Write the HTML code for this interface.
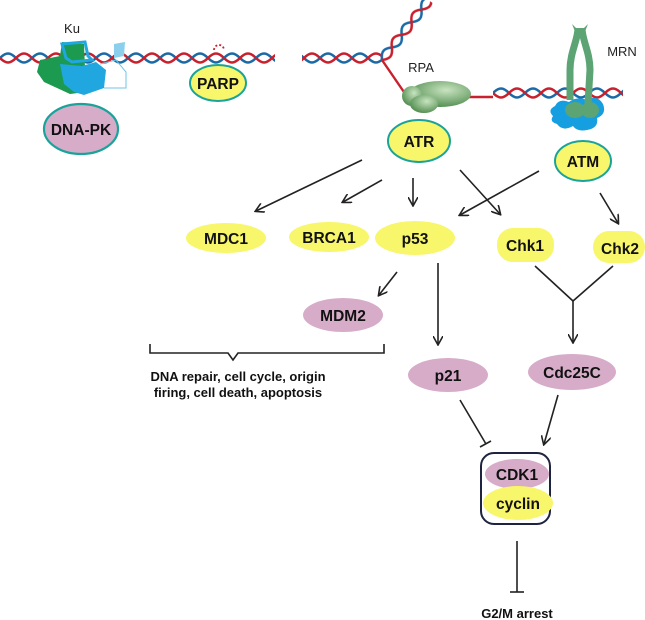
<!DOCTYPE html>
<html><head><meta charset="utf-8"><style>
html,body{margin:0;padding:0;background:#fff;}
svg{display:block;}
text{font-family:"Liberation Sans",sans-serif;}
.b{font-weight:bold;font-size:15.5px;text-anchor:middle;fill:#111;}
</style></head><body>
<svg width="645" height="620" viewBox="0 0 645 620" xmlns="http://www.w3.org/2000/svg">
<defs>
<pattern id="hx" patternUnits="userSpaceOnUse" width="32" height="14" x="0" y="51">
<path d="M0,7 C6,1 10,1 16,7 S26,13 32,7" fill="none" stroke="#1b6aa5" stroke-width="2.6"/>
<path d="M0,7 C6,13 10,13 16,7 S26,1 32,7" fill="none" stroke="#c8202c" stroke-width="2.6"/>
</pattern>
<pattern id="hx2" patternUnits="userSpaceOnUse" width="32" height="14" x="493" y="86">
<path d="M0,7 C6,1 10,1 16,7 S26,13 32,7" fill="none" stroke="#1b6aa5" stroke-width="2.6"/>
<path d="M0,7 C6,13 10,13 16,7 S26,1 32,7" fill="none" stroke="#c8202c" stroke-width="2.6"/>
</pattern>
<pattern id="hx3" patternUnits="userSpaceOnUse" width="32" height="14" x="0" y="-7">
<path d="M0,7 C6,1 10,1 16,7 S26,13 32,7" fill="none" stroke="#1b6aa5" stroke-width="2.6"/>
<path d="M0,7 C6,13 10,13 16,7 S26,1 32,7" fill="none" stroke="#c8202c" stroke-width="2.6"/>
</pattern>
<marker id="ar" markerWidth="10" markerHeight="10" refX="8" refY="5" orient="auto" markerUnits="userSpaceOnUse">
<path d="M0,0 L9,5 L0,10" fill="none" stroke="#222" stroke-width="1.6"/>
</marker>
<radialGradient id="gg" cx="0.6" cy="0.35" r="0.7"><stop offset="0" stop-color="#c8e4c0"/><stop offset="1" stop-color="#4e8a4c"/></radialGradient>
</defs>
<rect x="0" y="51" width="275" height="14" fill="url(#hx)"/>
<rect x="302" y="51" width="80" height="14" fill="url(#hx)"/>
<rect x="493" y="86" width="130" height="14" fill="url(#hx2)"/>
<g transform="translate(382,60) rotate(-52)">
<rect x="0" y="-7" width="76" height="14" fill="url(#hx3)"/>
</g>
<polyline points="382,60 406,95" fill="none" stroke="#c8202c" stroke-width="2.4"/>
<line x1="465" y1="97" x2="493" y2="97" stroke="#c8202c" stroke-width="2.4"/>
<ellipse cx="440" cy="94" rx="31" ry="13" fill="url(#gg)"/>
<ellipse cx="412" cy="96" rx="10" ry="10" fill="url(#gg)"/>
<ellipse cx="424" cy="104" rx="14" ry="9" fill="url(#gg)"/>
<text x="421" y="72" font-size="13" text-anchor="middle" fill="#222">RPA</text>
<path d="M62,42 L84,44 L86,92 L70,94 L44,82 L37,72 L40,60 L60,56 Z" fill="#1b9a50"/>
<path d="M60,64 L82,66 L96,62 L106,70 L104,88 L84,95 L74,92 L64,84 Z" fill="#20a7e0"/>
<path d="M62,44 L85,42 L88,56 L92,60 L72,62 L66,58 Z" fill="none" stroke="#20a7e0" stroke-width="3"/>
<path d="M100,64 L116,60 L126,72 L126,88 L104,88" fill="none" stroke="#6cc5e6" stroke-width="1"/>
<path d="M114,44 L125,42 L124,56 L114,58 Z" fill="#8ad0ec"/>
<text x="72" y="33" font-size="13" text-anchor="middle" fill="#222">Ku</text>
<path d="M214,50 a5,5 0 0 1 10,0" fill="none" stroke="#c8202c" stroke-width="1.8" stroke-dasharray="2,2"/>
<path d="M555,106 q4,-8 14,-4 q8,-6 18,-2 q10,-6 16,4 q4,10 -6,14 q2,10 -10,12 q-10,2 -14,-4 q-10,6 -16,-2 q-8,-2 -4,-8 q-6,-6 2,-10 z" fill="#169fe0"/>
<path d="M578,28 C578,40 570,52 570,70 L570,100" fill="none" stroke="#5ca473" stroke-width="7"/>
<path d="M582,28 C582,40 590,52 590,70 L588,104" fill="none" stroke="#5ca473" stroke-width="7"/>
<path d="M572,24 L580,32 L588,24 L584,34 L576,34 Z" fill="#5ca473"/>
<ellipse cx="575" cy="110" rx="10" ry="8" fill="#5ca473"/>
<ellipse cx="590" cy="110" rx="9" ry="8" fill="#5ca473"/>
<text x="622" y="56" font-size="13" text-anchor="middle" fill="#222">MRN</text>
<ellipse cx="81" cy="129" rx="37" ry="25" fill="#d6acc9" stroke="#1aa39a" stroke-width="2.2"/>
<text class="b" x="81" y="135">DNA-PK</text>
<ellipse cx="218" cy="83" rx="28" ry="18" fill="#f8f66a" stroke="#1aa39a" stroke-width="2"/>
<text class="b" x="218" y="89">PARP</text>
<ellipse cx="419" cy="141" rx="31" ry="21" fill="#f8f66a" stroke="#1aa39a" stroke-width="2"/>
<text class="b" x="419" y="147">ATR</text>
<ellipse cx="583" cy="161" rx="28" ry="20" fill="#f8f66a" stroke="#1aa39a" stroke-width="2"/>
<text class="b" x="583" y="167">ATM</text>
<ellipse cx="226" cy="238" rx="40" ry="15" fill="#f8f66a"/>
<text class="b" x="226" y="244">MDC1</text>
<ellipse cx="329" cy="237" rx="40" ry="15" fill="#f8f66a"/>
<text class="b" x="329" y="243">BRCA1</text>
<ellipse cx="415" cy="238" rx="40" ry="17" fill="#f8f66a"/>
<text class="b" x="415" y="244">p53</text>
<rect x="497" y="228" width="57" height="34" rx="16" fill="#f8f66a"/>
<text class="b" x="525" y="251">Chk1</text>
<rect x="593" y="231" width="52" height="32" rx="16" fill="#f8f66a"/>
<text class="b" x="620" y="254">Chk2</text>
<ellipse cx="343" cy="315" rx="40" ry="17" fill="#d6acc9"/>
<text class="b" x="343" y="321">MDM2</text>
<ellipse cx="448" cy="375" rx="40" ry="17" fill="#d6acc9"/>
<text class="b" x="448" y="381">p21</text>
<ellipse cx="572" cy="372" rx="44" ry="18" fill="#d6acc9"/>
<text class="b" x="572" y="378">Cdc25C</text>
<g stroke="#222" stroke-width="1.6" fill="none">
<line x1="362" y1="160" x2="256" y2="211" marker-end="url(#ar)"/>
<line x1="382" y1="180" x2="343" y2="202" marker-end="url(#ar)"/>
<line x1="413" y1="178" x2="413" y2="205" marker-end="url(#ar)"/>
<line x1="460" y1="170" x2="500" y2="214" marker-end="url(#ar)"/>
<line x1="539" y1="171" x2="460" y2="215" marker-end="url(#ar)"/>
<line x1="600" y1="193" x2="618" y2="223" marker-end="url(#ar)"/>
<line x1="397" y1="272" x2="379" y2="295" marker-end="url(#ar)"/>
<line x1="438" y1="263" x2="438" y2="344" marker-end="url(#ar)"/>
<polyline points="535,266 573,301 613,266"/>
<line x1="573" y1="301" x2="573" y2="342" marker-end="url(#ar)"/>
<polyline points="150,344 150,353 228,353 233,360 238,353 384,353 384,344"/>
<line x1="460" y1="400" x2="486" y2="444"/>
<line x1="480" y1="447" x2="491" y2="441"/>
<line x1="558" y1="395" x2="544" y2="444" marker-end="url(#ar)"/>
<line x1="517" y1="541" x2="517" y2="592"/>
<line x1="510" y1="592" x2="524" y2="592"/>
</g>
<text x="238" y="381" font-size="13" font-weight="bold" text-anchor="middle" fill="#111">DNA repair, cell cycle, origin</text>
<text x="238" y="397" font-size="13" font-weight="bold" text-anchor="middle" fill="#111">firing, cell death, apoptosis</text>
<rect x="481" y="453" width="69" height="71" rx="13" fill="#fff" stroke="#1e2440" stroke-width="2"/>
<ellipse cx="517" cy="474" rx="32" ry="15" fill="#d6acc9"/>
<ellipse cx="518" cy="503" rx="35" ry="17" fill="#f8f66a"/>
<text class="b" x="517" y="480">CDK1</text>
<text class="b" x="518" y="509">cyclin</text>
<text x="517" y="618" font-size="13" font-weight="bold" text-anchor="middle" fill="#111">G2/M arrest</text>
</svg>
</body></html>
